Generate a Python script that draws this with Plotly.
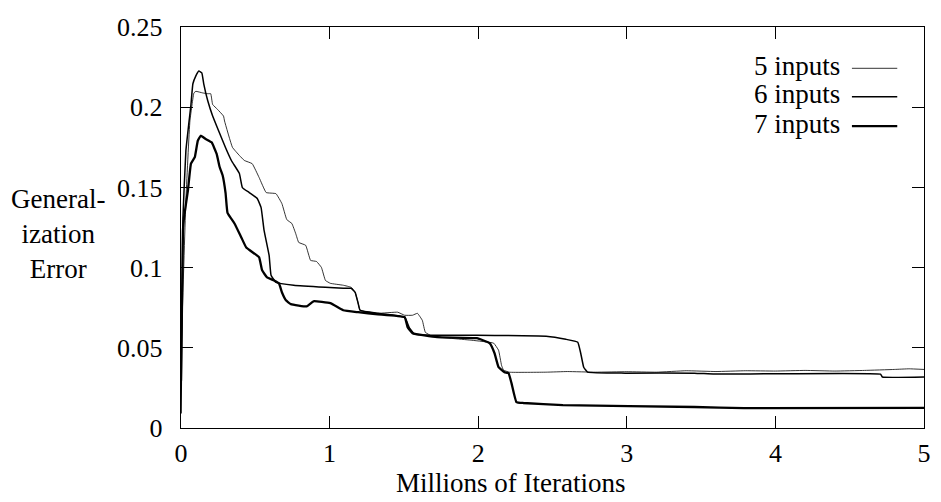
import plotly.graph_objects as go

# ---- data ----
x5 = [0.000, 0.033, 0.060, 0.087, 0.100, 0.146, 0.180, 0.200, 0.213, 0.246, 0.286, 0.293,
      0.346, 0.393, 0.426, 0.479, 0.526, 0.573, 0.639, 0.679, 0.712, 0.746, 0.772, 0.792,
      0.839, 0.872, 0.912, 0.945, 0.972, 1.005, 1.092, 1.145, 1.172, 1.192, 1.205, 1.325,
      1.458, 1.505, 1.558, 1.591, 1.624, 1.644, 1.691, 1.957, 2.104, 2.137, 2.157, 2.170,
      2.210, 2.457, 2.600, 2.790, 3.000, 3.200, 3.400, 3.600, 3.800, 4.000, 4.200, 4.400,
      4.600, 4.800, 4.900, 5.000]
y5 = [0.0449, 0.1423, 0.1914, 0.2089, 0.2099, 0.2089, 0.2084, 0.2084, 0.2017, 0.1986, 0.1945, 0.1914,
      0.1750, 0.1699, 0.1668, 0.1648, 0.1561, 0.1468, 0.1461, 0.1399, 0.1299, 0.1275, 0.1212, 0.1157,
      0.1139, 0.1045, 0.1038, 0.1001, 0.0920, 0.0902, 0.0890, 0.0877, 0.0846, 0.0778, 0.0734, 0.0715,
      0.0722, 0.0703, 0.0703, 0.0715, 0.0671, 0.0597, 0.0572, 0.0547, 0.0529, 0.0485, 0.0391, 0.0361,
      0.0348, 0.0348, 0.0352, 0.0348, 0.0351, 0.0348, 0.0357, 0.0352, 0.0357, 0.0355, 0.0359, 0.0355,
      0.0359, 0.0365, 0.0369, 0.0365]

x6 = [0.000, 0.013, 0.033, 0.067, 0.080, 0.100, 0.120, 0.140, 0.153, 0.180, 0.213, 0.253,
      0.300, 0.340, 0.393, 0.413, 0.459, 0.513, 0.539, 0.559, 0.593, 0.606, 0.639, 0.759,
      0.972, 1.092, 1.145, 1.172, 1.192, 1.205, 1.325, 1.505, 1.538, 1.571, 1.678, 1.991,
      2.457, 2.590, 2.670, 2.690, 2.710, 2.736, 2.989, 3.455, 3.589, 4.707, 4.720, 5.000]
y6 = [0.0090, 0.1310, 0.1730, 0.2017, 0.2146, 0.2195, 0.2226, 0.2214, 0.2146, 0.2040, 0.1945, 0.1853,
      0.1747, 0.1666, 0.1587, 0.1499, 0.1468, 0.1431, 0.1374, 0.1232, 0.1076, 0.0952, 0.0908, 0.0890,
      0.0877, 0.0871, 0.0871, 0.0846, 0.0778, 0.0734, 0.0715, 0.0691, 0.0622, 0.0585, 0.0578, 0.0578,
      0.0572, 0.0553, 0.0535, 0.0466, 0.0379, 0.0348, 0.0342, 0.0342, 0.0336, 0.0336, 0.0318, 0.0318]

x7 = [0.000, 0.013, 0.020, 0.047, 0.067, 0.093, 0.113, 0.133, 0.166, 0.206, 0.240, 0.260,
      0.280, 0.300, 0.313, 0.360, 0.406, 0.439, 0.493, 0.526, 0.546, 0.579, 0.626, 0.659,
      0.679, 0.706, 0.739, 0.846, 0.892, 1.005, 1.092, 1.192, 1.325, 1.505, 1.525, 1.558,
      1.724, 1.991, 2.077, 2.110, 2.137, 2.177, 2.204, 2.224, 2.257, 2.304, 2.570, 3.455,
      3.788, 5.000]
y7 = [0.0295, 0.1228, 0.1310, 0.1484, 0.1648, 0.1689, 0.1791, 0.1822, 0.1802, 0.1781, 0.1709, 0.1627,
      0.1576, 0.1464, 0.1341, 0.1275, 0.1188, 0.1125, 0.1088, 0.1064, 0.0983, 0.0939, 0.0920, 0.0902,
      0.0846, 0.0796, 0.0772, 0.0758, 0.0790, 0.0778, 0.0734, 0.0722, 0.0709, 0.0691, 0.0628, 0.0591,
      0.0566, 0.0560, 0.0529, 0.0466, 0.0379, 0.0348, 0.0342, 0.0280, 0.0162, 0.0156, 0.0143, 0.0131,
      0.0124, 0.0126]

series_names = ["5 inputs", "6 inputs", "7 inputs"]
series_widths = [0.8, 1.5, 2.3]
x_ticks = [0, 1, 2, 3, 4, 5]
x_tick_labels = ["0", "1", "2", "3", "4", "5"]
y_ticks = [0, 0.05, 0.1, 0.15, 0.2, 0.25]
y_tick_labels = ["0", "0.05", "0.1", "0.15", "0.2", "0.25"]

FONT = "Liberation Serif"
FS_TICK = 26
FS_TEXT = 27

fig = go.Figure()
for xs, ys, name, w in zip([x5, x6, x7], [y5, y6, y7], series_names, series_widths):
    fig.add_trace(go.Scatter(x=xs, y=ys, mode="lines", name=name,
                             line=dict(color="black", width=w, shape="spline", smoothing=0.3),
                             showlegend=False))

axis_common = dict(showgrid=False, zeroline=False, showline=True, linecolor="black",
                   linewidth=1.4, mirror="ticks", ticks="inside", ticklen=12,
                   tickwidth=1.4, tickcolor="black",
                   tickfont=dict(family=FONT, size=FS_TICK, color="black"))

fig.update_xaxes(range=[0, 5], tickvals=x_ticks, ticktext=x_tick_labels,
                 ticklabelstandoff=2, **axis_common)
fig.update_yaxes(range=[0, 0.25], tickvals=y_ticks, ticktext=y_tick_labels,
                 ticklabelstandoff=12, **axis_common)

# legend (drawn as in the reference: text right-aligned, sample line to its right)
leg_y = [0.897, 0.826, 0.753]
for name, w, yy in zip(series_names, series_widths, leg_y):
    fig.add_annotation(xref="paper", yref="paper", x=0.890, y=yy + 0.006, text=name,
                       showarrow=False, xanchor="right", yanchor="middle",
                       font=dict(family=FONT, size=FS_TEXT, color="black"))
    fig.add_shape(type="line", xref="paper", yref="paper", x0=0.903, x1=0.964,
                  y0=yy, y1=yy, line=dict(color="black", width=w))

fig.add_annotation(xref="paper", yref="paper", x=-0.165, y=0.485,
                   text="General-<br>ization<br>Error", showarrow=False,
                   xanchor="center", yanchor="middle", align="center",
                   font=dict(family=FONT, size=FS_TEXT, color="black"))
fig.add_annotation(xref="paper", yref="paper", x=0.444, y=-0.138,
                   text="Millions of Iterations", showarrow=False,
                   xanchor="center", yanchor="middle",
                   font=dict(family=FONT, size=FS_TEXT, color="black"))

fig.update_layout(width=941, height=502, margin=dict(l=181, r=10, t=27, b=74),
                  paper_bgcolor="white", plot_bgcolor="white", showlegend=False)

fig.write_html("out.html")
